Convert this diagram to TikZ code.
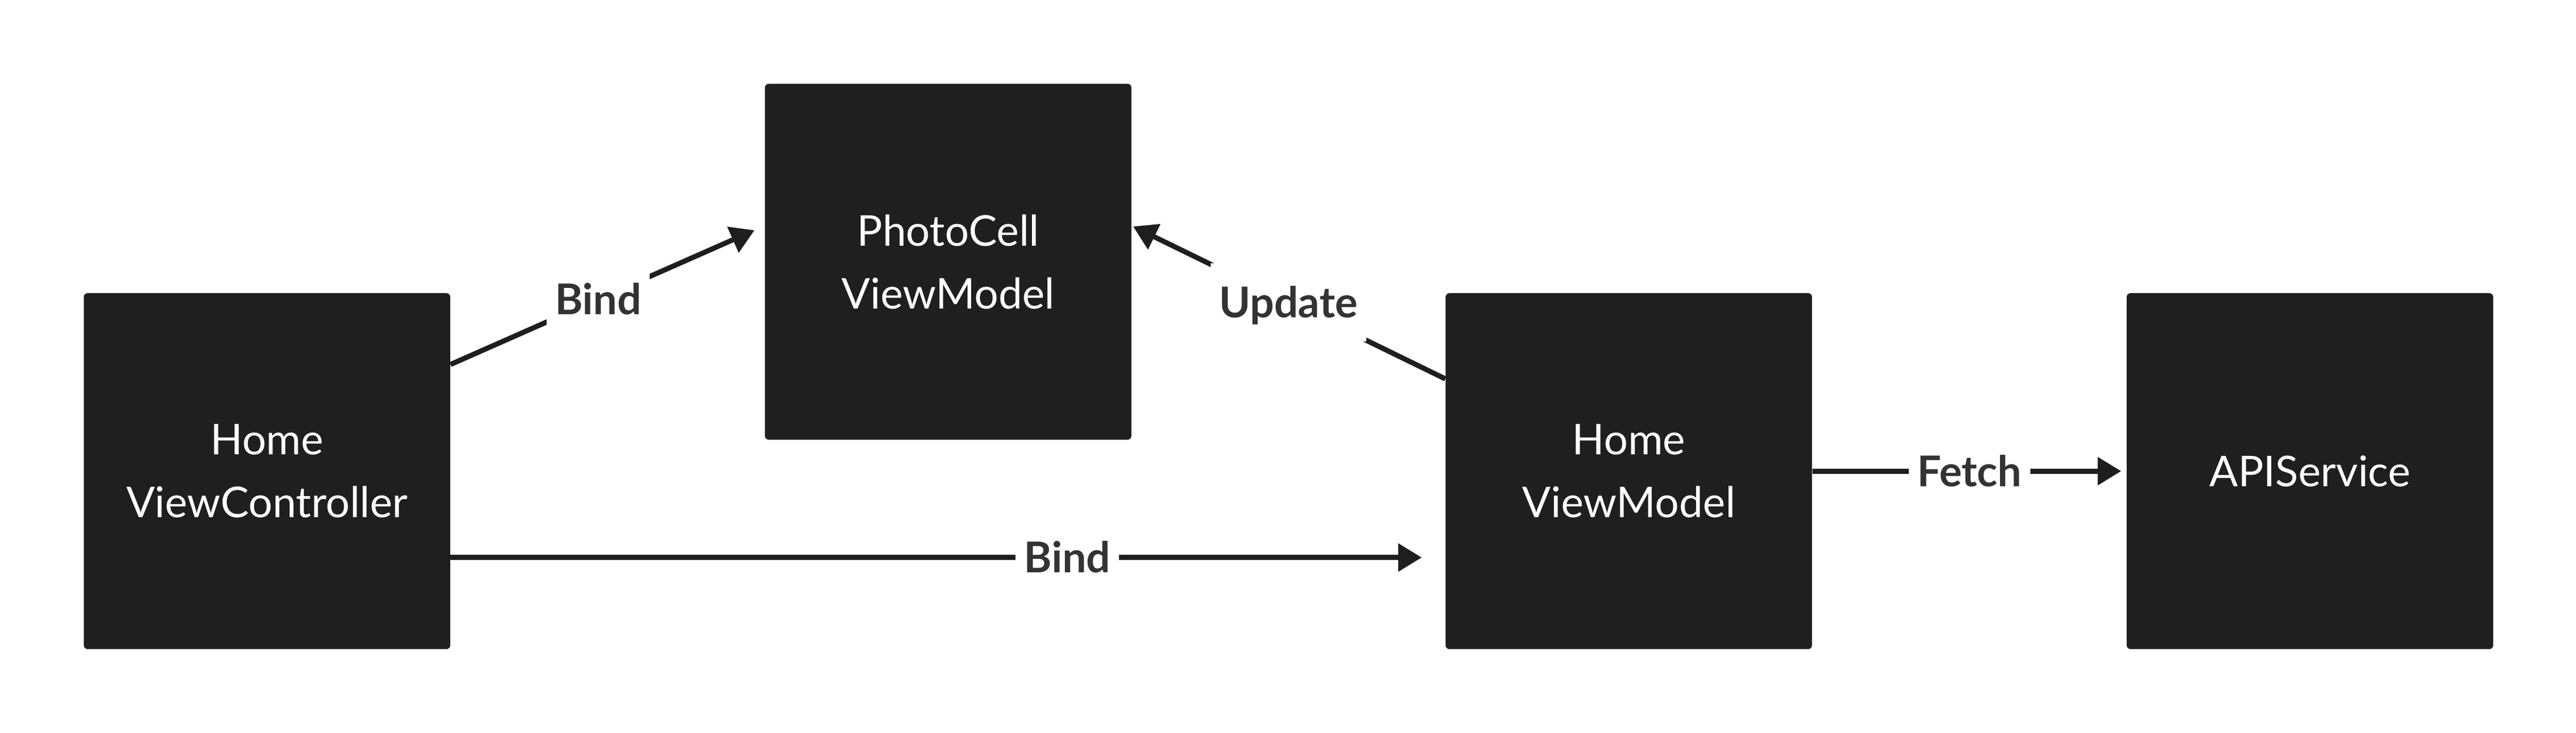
\documentclass[tikz,border=0pt]{standalone}
\usepackage{fontspec}
\setmainfont{Lato}
\usetikzlibrary{arrows.meta,positioning}
\definecolor{boxgray}{HTML}{1F1F1F}
\definecolor{linegray}{HTML}{1E1E1E}
\definecolor{labelgray}{HTML}{333333}
\tikzset{compbox/.style={rectangle,rounded corners=0.12cm,fill=boxgray,text=white,inner sep=0pt,align=center,minimum width=11.2cm,minimum height=10.88cm,font=\fontsize{36.9}{54.6}\selectfont}}
\tikzset{toArrow/.style={-{Triangle[length=0.72cm,width=0.83cm]},line width=0.155cm,draw=linegray}}
\tikzset{edgelbl/.style={fill=white,text=labelgray,inner xsep=0.26cm,inner ysep=0pt,text height=0.93cm,text depth=0pt,minimum height=2.4cm,font=\fontsize{36.9}{44}\selectfont\bfseries}}

\begin{document}
\begin{tikzpicture}
\useasboundingbox (0,0) rectangle (78.72,-22.4);
\begin{scope}[node distance=9.6cm]
	\node (homevc) [compbox] at (8.16,-14.40) {Home\\ViewController} ;
	\node (cellvm) [compbox, right =of homevc.east, yshift=6.4cm] {PhotoCell\\ViewModel} ;
	\node (homevm) [compbox, right =30.4cm of homevc] {Home\\ViewModel} ;
	\node (api) [compbox, right =of homevm] {APIService} ;
\end{scope}
\draw [toArrow, shorten >=0.34cm] ([yshift=3.26cm]homevc.east) -- node [edgelbl, pos=0.47] {Bind} ([yshift=1.1cm]cellvm.west);
\draw [toArrow, shorten >=0.05cm] ([yshift=2.82cm]homevm.west) -- node [edgelbl] {Update} ([yshift=1.1cm]cellvm.east);
\draw [toArrow, shorten >=0.72cm] ([yshift=-2.64cm]homevc.east) -- node [edgelbl, pos=0.62] {Bind} ([yshift=-2.64cm]homevm.west);
\draw [toArrow, shorten >=0.16cm] (homevm) -- node [edgelbl] {Fetch} (api);
\end{tikzpicture}
\end{document}
